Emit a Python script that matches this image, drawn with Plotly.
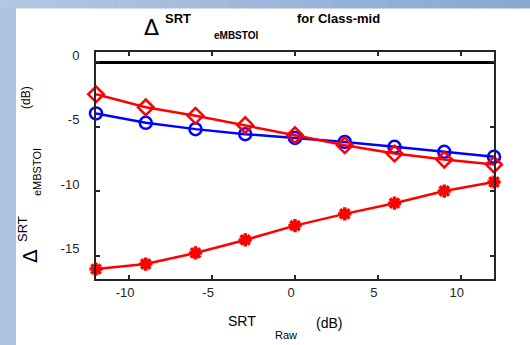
import plotly.graph_objects as go

# ---- data ----
srt_raw = [-12, -9, -6, -3, 0, 3, 6, 9, 12]
diamond_red = [-2.48, -3.49, -4.14, -4.87, -5.65, -6.43, -7.07, -7.54, -7.93]
circle_blue = [-3.96, -4.69, -5.18, -5.57, -5.86, -6.17, -6.55, -6.94, -7.33]
asterisk_red = [-16.03, -15.64, -14.78, -13.77, -12.66, -11.75, -10.92, -9.98, -9.28]
x_ticks = [-10, -5, 0, 5, 10]
y_ticks = [0, -5, -10, -15]

W, H = 530, 345
L, R, T, B = 96, 494, 52, 279


def px(x):
    return (x - L) / (R - L)


def py(y):
    return (B - y) / (B - T)


fig = go.Figure()
fig.add_trace(go.Scatter(x=srt_raw, y=circle_blue, mode="lines+markers",
                         line=dict(color="#0000ff", width=2.5),
                         marker=dict(symbol="circle-open", size=12, color="#0000ff",
                                     line=dict(width=2.5, color="#0000ff")),
                         cliponaxis=False, showlegend=False))
fig.add_trace(go.Scatter(x=srt_raw, y=diamond_red, mode="lines+markers",
                         line=dict(color="#ff0000", width=2.5),
                         marker=dict(symbol="diamond-open", size=12, color="#ff0000",
                                     line=dict(width=2.5, color="#ff0000")),
                         cliponaxis=False, showlegend=False))
fig.add_trace(go.Scatter(x=srt_raw, y=asterisk_red, mode="lines+markers",
                         line=dict(color="#ff0000", width=2.5),
                         marker=dict(symbol="asterisk-open", size=11, color="#ff0000",
                                     line=dict(width=3.5, color="#ff0000")),
                         cliponaxis=False, showlegend=False))

shapes = []
# left strip
shapes.append(dict(type="rect", xref="paper", yref="paper", x0=px(0), x1=px(16),
                   y0=py(H), y1=py(0), fillcolor="#adc2de", line_width=0, layer="below"))
# top gradient strip
n = 40
c0 = (0xb3, 0xc7, 0xe2)
c1 = (0x88, 0xa7, 0xd2)
for i in range(n):
    t = i / (n - 1)
    col = "rgb(%d,%d,%d)" % tuple(round(a + (b - a) * t) for a, b in zip(c0, c1))
    shapes.append(dict(type="rect", xref="paper", yref="paper",
                       x0=px(W * i / n), x1=px(W * (i + 1) / n + 0.5),
                       y0=py(8.5), y1=py(0), fillcolor=col, line_width=0, layer="below"))

FONT = "Liberation Sans, Arial, sans-serif"
ann = []


def text(s, x, y, size, bold=False, angle=0, family=FONT):
    ann.append(dict(text=("<b>%s</b>" % s) if bold else s, x=px(x), y=py(y),
                    xref="paper", yref="paper", showarrow=False,
                    xanchor="center", yanchor="middle", textangle=angle,
                    font=dict(family=family, size=size, color="#000000")))


# title
text("Δ", 151, 27, 22, family="DejaVu Sans")
text("SRT", 178, 19, 13, bold=True)
text("eMBSTOI", 236, 35, 10, bold=True)
text("for Class-mid", 338, 19, 13, bold=True)
# x label
text("SRT", 242, 321, 14)
text("Raw", 286, 335, 11)
text("(dB)", 329, 323, 14)
# y label
text("(dB)", 26, 98, 12, angle=-90)
text("eMBSTOI", 37, 172, 11, angle=-90)
text("SRT", 22, 229, 13, angle=-90)
text("Δ", 30, 256, 20, angle=-90, family="DejaVu Sans")

axis_common = dict(showgrid=False, showline=True, linecolor="#262626", linewidth=2,
                   mirror="ticks", ticks="inside", ticklen=4, tickwidth=2,
                   tickcolor="#262626",
                   tickfont=dict(family=FONT, size=13, color="#262626"))

fig.update_layout(
    width=W, height=H,
    margin=dict(l=L, r=W - R, t=T, b=H - B, pad=0),
    paper_bgcolor="white", plot_bgcolor="white",
    xaxis=dict(range=[-12, 12], tickvals=x_ticks, ticktext=[str(v) for v in x_ticks],
               zeroline=False, ticklabelshift=-4, ticklabelstandoff=0, **axis_common),
    yaxis=dict(range=[-16.8, 0.8], tickvals=y_ticks, ticktext=[str(v) for v in y_ticks],
               zeroline=True, zerolinecolor="#000000", zerolinewidth=2.5,
               ticklabelshift=-7, ticklabelstandoff=12, **axis_common),
    shapes=shapes, annotations=ann,
)

fig.write_html("out.html")
